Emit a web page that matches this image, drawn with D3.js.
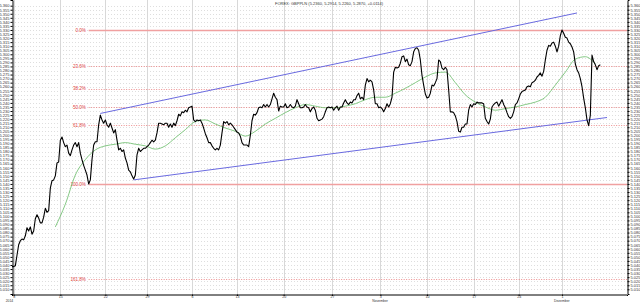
<!DOCTYPE html>
<html>
<head>
<meta charset="utf-8">
<script src="https://cdn.jsdelivr.net/npm/d3@7"></script>
<style>
  body { margin: 0; background: #fff; }
  svg text { font-family: "Liberation Sans", Arial, sans-serif; }
</style>
</head>
<body>
<svg id="chart" width="640" height="302"></svg>
<script>
// GBP/PLN price, one value per bar
const prices = [
  5.038, 5.038, 5.039, 5.052, 5.065, 5.070, 5.072, 5.071, 5.076, 5.086, 5.082, 5.087, 5.078, 5.082, 5.097, 5.102, 5.098, 5.092, 5.092, 5.099, 5.110, 5.105, 5.107,
  5.135, 5.144, 5.145, 5.150, 5.166, 5.167, 5.194, 5.198, 5.191, 5.186, 5.188, 5.178, 5.175, 5.182, 5.188, 5.191, 5.186, 5.191, 5.178, 5.170,
  5.163, 5.157, 5.151, 5.140, 5.145, 5.170, 5.188, 5.192, 5.192, 5.213, 5.225, 5.219, 5.215, 5.219, 5.213, 5.210, 5.215, 5.209, 5.203, 5.207,
  5.194, 5.182, 5.184, 5.180, 5.182, 5.172, 5.166, 5.157, 5.155, 5.150, 5.146, 5.151, 5.176, 5.184, 5.180, 5.182, 5.184, 5.184, 5.186, 5.188,
  5.191, 5.194, 5.192, 5.194, 5.203, 5.215,
  5.215, 5.214, 5.213, 5.215, 5.215, 5.210, 5.214, 5.210, 5.215, 5.212, 5.218, 5.226, 5.224, 5.229, 5.228, 5.231, 5.229, 5.234, 5.235, 5.236,
  5.219, 5.217, 5.219, 5.218, 5.219, 5.215, 5.209, 5.202, 5.197, 5.191, 5.191, 5.187, 5.184, 5.182, 5.184, 5.182, 5.188, 5.203, 5.217, 5.215,
  5.217, 5.213, 5.215, 5.213, 5.210, 5.207, 5.204, 5.203, 5.199, 5.191, 5.188, 5.188, 5.188, 5.186, 5.200, 5.218, 5.226, 5.225, 5.228, 5.234,
  5.235, 5.234, 5.238, 5.235, 5.238, 5.235, 5.238, 5.245, 5.252, 5.247, 5.244, 5.230, 5.236, 5.235, 5.235, 5.239, 5.234, 5.235, 5.238, 5.235,
  5.234, 5.236, 5.244, 5.239, 5.234, 5.234, 5.235, 5.238, 5.235, 5.234, 5.229, 5.233, 5.235, 5.231, 5.221, 5.218,
  5.219, 5.220, 5.223, 5.229, 5.234, 5.235, 5.234, 5.235, 5.231, 5.234, 5.236, 5.231, 5.235, 5.235, 5.240, 5.244, 5.240, 5.238, 5.241, 5.240,
  5.244, 5.244, 5.249, 5.252, 5.245, 5.247, 5.244, 5.262, 5.270, 5.266, 5.268, 5.266, 5.256, 5.239, 5.239, 5.234, 5.235, 5.233, 5.229, 5.233,
  5.239, 5.235, 5.239, 5.247, 5.278, 5.284, 5.283, 5.284, 5.289, 5.297, 5.298, 5.291, 5.294, 5.287, 5.286, 5.291, 5.303, 5.307, 5.308, 5.305,
  5.293, 5.274, 5.262, 5.251, 5.246, 5.247, 5.252, 5.262, 5.261, 5.265, 5.270, 5.293, 5.291, 5.283, 5.281, 5.284, 5.281, 5.256, 5.229, 5.229,
  5.228, 5.224, 5.217, 5.205, 5.204, 5.210, 5.210, 5.214, 5.214, 5.231, 5.238, 5.235, 5.239, 5.238, 5.241, 5.240,
  5.240, 5.240, 5.239, 5.221, 5.217, 5.214, 5.220, 5.235, 5.238, 5.240, 5.241, 5.236, 5.240, 5.244, 5.238, 5.234, 5.228, 5.223, 5.221, 5.223,
  5.229, 5.238, 5.240, 5.245, 5.251, 5.254, 5.255, 5.256, 5.260, 5.261, 5.260, 5.265, 5.266, 5.268, 5.272, 5.274, 5.277, 5.273, 5.279, 5.293,
  5.305, 5.311, 5.310, 5.314, 5.315, 5.310, 5.303, 5.310, 5.323, 5.330, 5.326, 5.321, 5.320, 5.315, 5.313, 5.309, 5.303, 5.288, 5.281, 5.277,
  5.270, 5.260, 5.246, 5.234, 5.219, 5.212, 5.225, 5.299, 5.291, 5.287, 5.281, 5.286, 5.287
];

// moving average (green), sampled every maStep bars from maFirstBar
const maFirstBar = 26, maStep = 6;
const maValues = [
  5.087, 5.115, 5.151, 5.170, 5.182, 5.187, 5.189, 5.191, 5.189, 5.187,
  5.183, 5.187, 5.197, 5.207, 5.217, 5.219, 5.214, 5.209, 5.205, 5.199,
  5.205, 5.214, 5.221, 5.228, 5.234, 5.238, 5.236, 5.234, 5.234, 5.236,
  5.239, 5.244, 5.247, 5.247, 5.252, 5.258, 5.265, 5.272, 5.277, 5.278,
  5.265, 5.250, 5.241, 5.235, 5.231, 5.233, 5.235, 5.238, 5.241, 5.247,
  5.262, 5.278, 5.294, 5.297, 5.288
];

// Fibonacci retracement between the low and the high
const fibLow = 5.140, fibHigh = 5.330, fibLowBar = 46;
const fibLevels = [0, 23.6, 38.2, 50, 61.8, 100, 161.8];

// trend channel, [bar, price]
const channelUpper = [[53, 5.227], [339, 5.351]];
const channelLower = [[73, 5.145], [357, 5.222]];

// x axis
const tickBars   = [1, 29, 56, 81, 108, 135, 163, 192, 221, 249, 277, 304, 330];
const tickLabels = ["8", "15", "22", "29", "6", "13", "20", "27", "3", "10", "17", "24", "1"];
const monthBars   = [1, 221, 330];
const monthLabels = ["2014", "November", "Dezember"];

const yTickValues = d3.range(5010, 5361, 5).map(d => d / 1000);

const title = "FOREX: GBPPLN (5.2360, 5.2914, 5.2260, 5.2870, +0.0114)";

const W = 640, H = 302;
const mLeft = 12, mRight = 627, mTop = 0, mBottom = 294;
const svg = d3.select("#chart");

const x = d3.scaleLinear().domain([0, 369]).range([mLeft, mRight]);
const y = d3.scaleLinear().domain([5.0042, 5.367]).range([mBottom, mTop]);

// horizontal dotted grid
svg.append("g")
  .selectAll("line")
  .data(yTickValues)
  .enter().append("line")
  .attr("x1", mLeft).attr("x2", mRight)
  .attr("y1", d => Math.round(y(d)) + 0.5)
  .attr("y2", d => Math.round(y(d)) + 0.5)
  .attr("stroke", "#c8c8c8")
  .attr("stroke-width", 0.6)
  .attr("stroke-dasharray", "1,2");

// vertical grid
svg.append("g")
  .selectAll("line")
  .data(tickBars)
  .enter().append("line")
  .attr("x1", d => Math.round(x(d)) + 0.5)
  .attr("x2", d => Math.round(x(d)) + 0.5)
  .attr("y1", mTop).attr("y2", mBottom)
  .attr("stroke", "#d8d8d8")
  .attr("stroke-width", 1);

// fibonacci lines
const fib = svg.append("g");
fibLevels.forEach(p => {
  const v = fibHigh - (fibHigh - fibLow) * p / 100;
  const solid = p === 0 || p === 100;
  fib.append("line")
    .attr("x1", x(fibLowBar)).attr("x2", mRight)
    .attr("y1", Math.round(y(v)) + 0.5).attr("y2", Math.round(y(v)) + 0.5)
    .attr("stroke", solid ? "#f0a0a0" : "#e87070")
    .attr("stroke-width", solid ? 1.6 : 0.8)
    .attr("stroke-dasharray", solid ? null : "1,1.5");
  fib.append("text")
    .attr("x", x(fibLowBar) - 3)
    .attr("y", y(v) + 1.6)
    .attr("text-anchor", "end")
    .attr("font-size", 4.5)
    .attr("fill", "#e04040")
    .text(p.toFixed(1) + "%");
});

// channel
const chan = d3.line().x(d => x(d[0])).y(d => y(d[1]));
[channelUpper, channelLower].forEach(c => {
  svg.append("path")
    .attr("d", chan(c))
    .attr("fill", "none")
    .attr("stroke", "#6a6ae0")
    .attr("stroke-width", 1);
});

// moving average
const maData = maValues.map((v, i) => [maFirstBar + i * maStep, v]);
svg.append("path")
  .attr("d", d3.line().x(d => x(d[0])).y(d => y(d[1])).curve(d3.curveMonotoneX)(maData))
  .attr("fill", "none")
  .attr("stroke", "#66bb66")
  .attr("stroke-width", 0.8);

// price
svg.append("path")
  .attr("d", d3.line().x((d, i) => x(i)).y(d => y(d))(prices))
  .attr("fill", "none")
  .attr("stroke", "#000")
  .attr("stroke-width", 1.1)
  .attr("stroke-linejoin", "round");

// axes
const fmt = d3.format(".3f");
svg.append("g")
  .attr("transform", `translate(${mLeft + 0.5},0)`)
  .call(d3.axisLeft(y).tickValues(yTickValues).tickFormat(fmt).tickSize(2).tickPadding(1))
  .call(g => g.selectAll("text").attr("font-size", 4).attr("fill", "#333"));
svg.append("g")
  .attr("transform", `translate(${mRight + 0.5},0)`)
  .call(d3.axisRight(y).tickValues(yTickValues).tickFormat(fmt).tickSize(2).tickPadding(1))
  .call(g => g.selectAll("text").attr("font-size", 4).attr("fill", "#333"));
svg.append("g")
  .attr("transform", `translate(0,${mBottom + 0.5})`)
  .call(d3.axisBottom(x).tickValues(tickBars).tickFormat((d, i) => tickLabels[i]).tickSize(1.5).tickPadding(0))
  .call(g => g.selectAll("text").attr("font-size", 3.6).attr("fill", "#333").attr("dy", "0.55em"));
svg.selectAll(".domain").attr("stroke", "#000");

svg.append("g")
  .selectAll("text")
  .data(monthLabels)
  .enter().append("text")
  .attr("x", (d, i) => x(monthBars[i]) - 8)
  .attr("y", H - 0.3)
  .attr("font-size", 3.4)
  .attr("fill", "#333")
  .text(d => d);

svg.append("text")
  .attr("x", 275).attr("y", 5)
  .attr("font-size", 4)
  .attr("fill", "#333")
  .text(title);
</script>
</body>
</html>
